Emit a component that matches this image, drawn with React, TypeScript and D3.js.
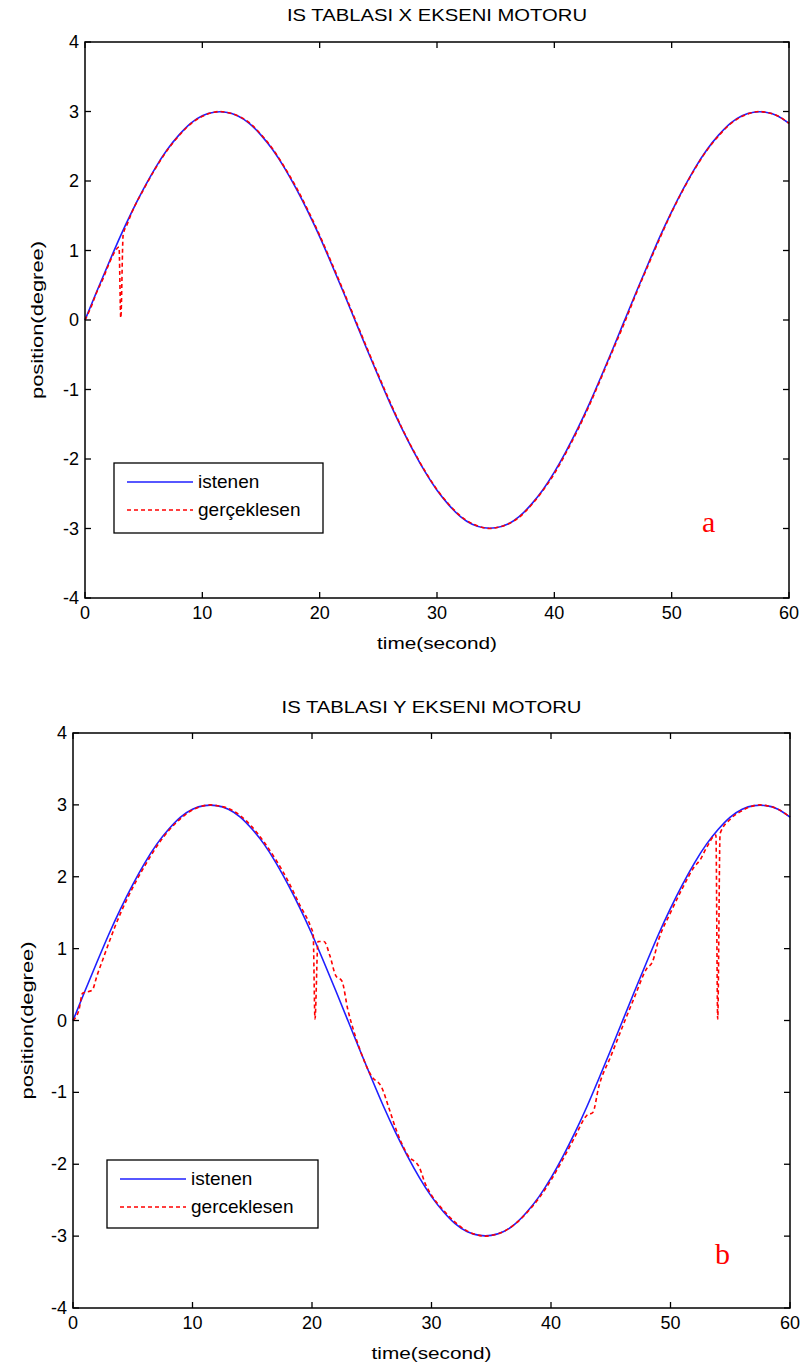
import React from "react";
import * as d3 from "d3";

// ---------- data ----------
const xTicks = [0, 10, 20, 30, 40, 50, 60];
const yTicks = [-4, -3, -2, -1, 0, 1, 2, 3, 4];

// desired trajectory (istenen), sampled every second
const desiredTime = [
  0, 1, 2, 3, 4, 5, 6, 7, 8, 9, 10, 11, 12, 13, 14, 15, 16, 17, 18, 19, 20,
  21, 22, 23, 24, 25, 26, 27, 28, 29, 30, 31, 32, 33, 34, 35, 36, 37, 38, 39, 40,
  41, 42, 43, 44, 45, 46, 47, 48, 49, 50, 51, 52, 53, 54, 55, 56, 57, 58, 59, 60,
];
const desiredValue = [
  0, 0.41, 0.81, 1.2, 1.56, 1.89, 2.19, 2.45, 2.66, 2.83, 2.94, 2.99, 2.99, 2.94, 2.83, 2.66, 2.45, 2.19, 1.89, 1.56, 1.2,
  0.81, 0.41, 0, -0.41, -0.81, -1.2, -1.56, -1.89, -2.19, -2.45, -2.66, -2.83, -2.94, -2.99, -2.99, -2.94, -2.83, -2.66, -2.45, -2.19,
  -1.89, -1.56, -1.2, -0.81, -0.41, 0, 0.41, 0.81, 1.2, 1.56, 1.89, 2.19, 2.45, 2.66, 2.83, 2.94, 2.99, 2.99, 2.94, 2.83,
];

// realised trajectory (gerçeklesen), X axis motor
const actualXTime = [
  0, 0.5, 1, 1.5, 2, 2.5, 2.9, 3.05, 3.25, 3.6, 4, 5, 6, 7, 8, 9, 10, 11, 11.5, 12, 13, 14, 15, 16, 17, 18, 19, 20,
  21, 22, 23, 24, 25, 26, 27, 28, 29, 30, 31, 32, 33, 34, 34.5, 35, 36, 37, 38, 39, 40,
  41, 42, 43, 44, 45, 46, 47, 48, 49, 50, 51, 52, 53, 54, 55, 56, 57, 57.5, 58, 59, 60,
];
const actualXValue = [
  0, 0.18, 0.4, 0.58, 0.79, 0.97, 1.05, 0.03, 1.22, 1.38, 1.55, 1.88, 2.18, 2.44, 2.65, 2.82, 2.93, 2.99, 3.0, 2.99, 2.94, 2.84, 2.67, 2.46, 2.2, 1.91, 1.58, 1.22,
  0.83, 0.43, 0.02, -0.39, -0.79, -1.18, -1.55, -1.88, -2.18, -2.44, -2.65, -2.82, -2.93, -2.99, -3.0, -2.99, -2.94, -2.84, -2.67, -2.46, -2.21,
  -1.91, -1.58, -1.22, -0.83, -0.43, -0.03, 0.39, 0.79, 1.18, 1.55, 1.88, 2.18, 2.44, 2.65, 2.82, 2.93, 2.99, 3.0, 2.99, 2.94, 2.83,
];

// realised trajectory (gerceklesen), Y axis motor
const actualYTime = [
  0, 0.5, 0.8, 1.6, 2, 2.5, 3, 3.5, 4, 5, 6, 7, 8, 9, 10, 11, 11.5, 12, 13, 14, 15, 16, 17, 18, 19, 19.9,
  20.1, 20.25, 20.5, 21, 21.5, 22, 22.5, 23, 23.5, 24, 25, 25.8, 26.5, 27, 28, 29, 29.5, 30,
  31, 32, 33, 34, 34.5, 35, 36, 37, 38, 39, 40, 41, 42, 43, 43.5, 44, 45, 46, 47, 48, 48.5, 49,
  50, 51, 52, 52.5, 53, 53.8, 53.95, 54.15, 55, 56, 57, 57.5, 58, 59, 60,
];
const actualYValue = [
  0, 0.15, 0.38, 0.42, 0.62, 0.85, 1.08, 1.3, 1.5, 1.85, 2.15, 2.42, 2.64, 2.81, 2.93, 2.99, 3.0, 2.99, 2.95, 2.85, 2.69, 2.48, 2.23, 1.94, 1.6, 1.3,
  1.2, 0.02, 1.1, 1.1, 0.9, 0.62, 0.55, 0.15, -0.15, -0.4, -0.78, -0.92, -1.25, -1.5, -1.87, -2.05, -2.28, -2.43,
  -2.64, -2.81, -2.93, -2.99, -3.0, -2.99, -2.94, -2.83, -2.67, -2.47, -2.22, -1.93, -1.62, -1.32, -1.28, -0.92, -0.5, -0.08, 0.33, 0.72, 0.82, 1.12,
  1.5, 1.84, 2.14, 2.24, 2.4, 2.58, 0.02, 2.6, 2.8, 2.92, 2.99, 3.0, 2.99, 2.94, 2.83,
];

const legendLabelsA = ["istenen", "gerçeklesen"];
const legendLabelsB = ["istenen", "gerceklesen"];

const FONT = "'Liberation Sans', Arial, sans-serif";
const BLUE = "#1f1fff";
const RED = "#ff0000";

type PanelProps = {
  left: number; right: number; top: number; bottom: number;
  title: string; titleY: number;
  actualT: number[]; actualV: number[];
  legend: string[]; legendBox: { x: number; y: number; w: number; h: number };
  letter: string; letterPos: { x: number; y: number };
  yLabelX: number;
};

function Panel(p: PanelProps) {
  const x = d3.scaleLinear().domain([0, 60]).range([p.left, p.right]);
  const y = d3.scaleLinear().domain([-4, 4]).range([p.bottom, p.top]);
  const smooth = d3
    .line<[number, number]>()
    .x((d) => x(d[0]))
    .y((d) => y(d[1]))
    .curve(d3.curveNatural);
  const mono = d3
    .line<[number, number]>()
    .x((d) => x(d[0]))
    .y((d) => y(d[1]))
    .curve(d3.curveMonotoneX);
  const desired = desiredTime.map((t, i) => [t, desiredValue[i]] as [number, number]);
  const actual = p.actualT.map((t, i) => [t, p.actualV[i]] as [number, number]);
  const tl = 6;
  const lb = p.legendBox;
  return (
    <g>
      <text x={(p.left + p.right) / 2} y={p.titleY} textAnchor="middle" fontSize={17} fontFamily={FONT}
        textLength={300} lengthAdjust="spacingAndGlyphs">
        {p.title}
      </text>
      <path d={smooth(desired) || ""} fill="none" stroke={BLUE} strokeWidth={1.6} />
      <path d={mono(actual) || ""} fill="none" stroke={RED} strokeWidth={1.6} strokeDasharray="4,3" />
      <rect x={p.left} y={p.top} width={p.right - p.left} height={p.bottom - p.top} fill="none" stroke="#000" strokeWidth={1.5} />
      {xTicks.map((t) => (
        <g key={"x" + t}>
          <line x1={x(t)} x2={x(t)} y1={p.bottom} y2={p.bottom - tl} stroke="#000" strokeWidth={1.3} />
          <line x1={x(t)} x2={x(t)} y1={p.top} y2={p.top + tl} stroke="#000" strokeWidth={1.3} />
          <text x={x(t)} y={p.bottom + 21} textAnchor="middle" fontSize={18} fontFamily={FONT}>
            {t}
          </text>
        </g>
      ))}
      {yTicks.map((t) => (
        <g key={"y" + t}>
          <line x1={p.left} x2={p.left + tl} y1={y(t)} y2={y(t)} stroke="#000" strokeWidth={1.3} />
          <line x1={p.right} x2={p.right - tl} y1={y(t)} y2={y(t)} stroke="#000" strokeWidth={1.3} />
          <text x={p.left - 6} y={y(t) + 6} textAnchor="end" fontSize={18} fontFamily={FONT}>
            {t}
          </text>
        </g>
      ))}
      <text x={(p.left + p.right) / 2} y={p.bottom + 51} textAnchor="middle" fontSize={17} fontFamily={FONT}
        textLength={120} lengthAdjust="spacingAndGlyphs">
        time(second)
      </text>
      <text
        transform={`translate(${p.yLabelX},${(p.top + p.bottom) / 2}) rotate(-90)`}
        textAnchor="middle"
        fontSize={17}
        fontFamily={FONT}
        textLength={158}
        lengthAdjust="spacingAndGlyphs"
      >
        position(degree)
      </text>
      <rect x={lb.x} y={lb.y} width={lb.w} height={lb.h} fill="#fff" stroke="#000" strokeWidth={1.3} />
      <line x1={lb.x + 13} x2={lb.x + 79} y1={lb.y + 19} y2={lb.y + 19} stroke={BLUE} strokeWidth={1.6} />
      <line x1={lb.x + 13} x2={lb.x + 79} y1={lb.y + 47} y2={lb.y + 47} stroke={RED} strokeWidth={1.6} strokeDasharray="4,3" />
      <text x={lb.x + 84} y={lb.y + 25} fontSize={19} fontFamily={FONT}>
        {p.legend[0]}
      </text>
      <text x={lb.x + 84} y={lb.y + 53} fontSize={19} fontFamily={FONT}>
        {p.legend[1]}
      </text>
      <text x={p.letterPos.x} y={p.letterPos.y} fontSize={30} fill={RED} fontFamily="'Liberation Serif', 'Times New Roman', serif">
        {p.letter}
      </text>
    </g>
  );
}

export default function App() {
  return (
    <svg width={804} height={1363} style={{ position: "absolute", left: 0, top: 0, background: "#fff" }}>
      <Panel
        left={85} right={789} top={42} bottom={598}
        title="IS TABLASI X EKSENI MOTORU" titleY={21}
        actualT={actualXTime} actualV={actualXValue}
        legend={legendLabelsA} legendBox={{ x: 114, y: 463, w: 209, h: 70 }}
        letter="a" letterPos={{ x: 702, y: 532 }}
        yLabelX={43}
      />
      <Panel
        left={73} right={790} top={733} bottom={1308}
        title="IS TABLASI Y EKSENI MOTORU" titleY={713}
        actualT={actualYTime} actualV={actualYValue}
        legend={legendLabelsB} legendBox={{ x: 107, y: 1160, w: 211, h: 68 }}
        letter="b" letterPos={{ x: 715, y: 1264 }}
        yLabelX={33}
      />
    </svg>
  );
}
